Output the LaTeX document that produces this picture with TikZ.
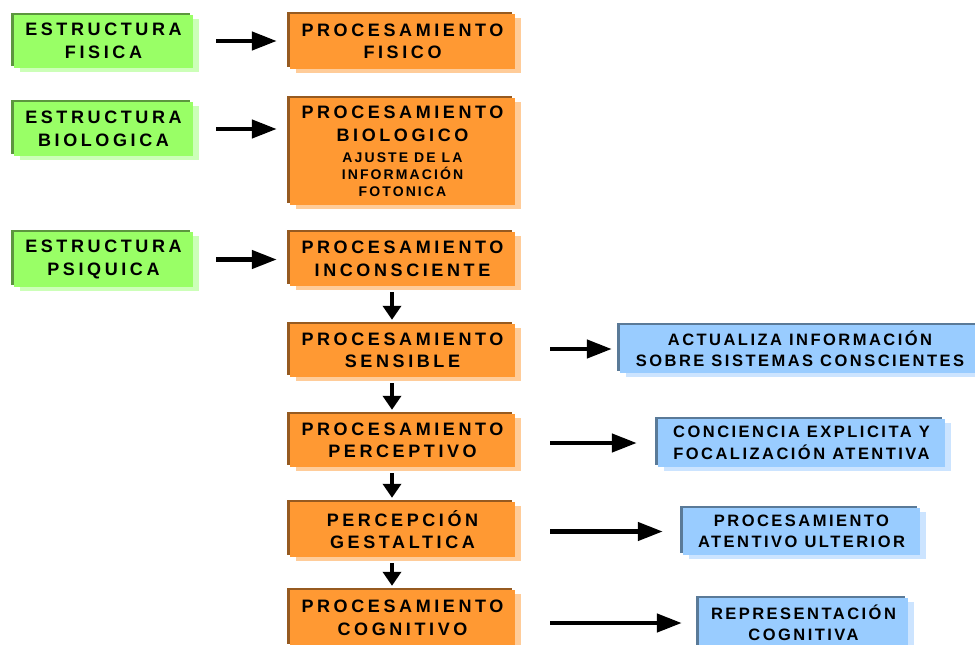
\documentclass[tikz,border=0pt]{standalone}
\usepackage{fontspec}
\setmainfont{Liberation Sans}
\newfontfamily\boxfont[LetterSpace=20]{Liberation Sans}
\newfontfamily\bluefont[LetterSpace=15]{Liberation Sans}
\newfontfamily\smallfont[LetterSpace=15]{Liberation Sans}
\usetikzlibrary{arrows.meta,shadows}

\definecolor{greenfill}{RGB}{153,255,102}
\definecolor{greendark}{RGB}{92,150,62}
\definecolor{greenlight}{RGB}{204,255,184}
\definecolor{orangefill}{RGB}{255,153,51}
\definecolor{orangedark}{RGB}{150,90,32}
\definecolor{orangelight}{RGB}{255,204,153}
\definecolor{bluefill}{RGB}{153,204,255}
\definecolor{bluedark}{RGB}{90,122,152}
\definecolor{bluelight}{RGB}{204,228,255}

\begin{document}
\begin{tikzpicture}[x=1pt,y=-1pt,
		box/.style={inner sep=0pt,align=center,font=\boxfont\bfseries\fontsize{18}{22.5}\selectfont},
		greenbox/.style={box,fill=greenfill,minimum width=179pt,
			general shadow={shadow xshift=6pt,shadow yshift=-4pt,fill=greenlight},
			general shadow={shadow xshift=-3pt,shadow yshift=2pt,fill=greendark}},
		orangebox/.style={box,fill=orangefill,minimum width=225pt,
			general shadow={shadow xshift=6pt,shadow yshift=-4pt,fill=orangelight},
			general shadow={shadow xshift=-3pt,shadow yshift=2pt,fill=orangedark}},
		bluebox/.style={box,fill=bluefill,font=\bluefont\bfseries\fontsize{16.5}{21.5}\selectfont,
			general shadow={shadow xshift=6pt,shadow yshift=-4pt,fill=bluelight},
			general shadow={shadow xshift=-3pt,shadow yshift=2pt,fill=bluedark}},
		flow/.style={line width=4.5pt,-{Triangle[length=25pt,width=18pt]}},
		down/.style={line width=4pt,-{Triangle[length=14pt,width=18pt]}}]
			% page
			\useasboundingbox (0,0) rectangle (975,645);
			\clip (0,0) rectangle (975,645);
			% structures
			\node[greenbox,minimum height=53pt] (g1) at (103.5,41) {ESTRUCTURA\\FISICA};
			\node[greenbox,minimum height=54pt] (g2) at (103.5,129) {ESTRUCTURA\\BIOLOGICA};
			\node[greenbox,minimum height=55pt] (g3) at (103.5,259.5) {ESTRUCTURA\\PSIQUICA};
			% processing column
			\node[orangebox,minimum height=55pt] (o1) at (402.5,41.5) {PROCESAMIENTO\\FISICO};
			\node[orangebox,minimum height=107pt] (o2) at (402.5,151.5) {PROCESAMIENTO\\BIOLOGICO\\[-1.5pt]
				\smallfont\fontsize{14}{17}\selectfont AJUSTE DE LA\\[-5.5pt]
				\smallfont\fontsize{14}{17}\selectfont INFORMACIÓN\\[-5.5pt]
				\smallfont\fontsize{14}{17}\selectfont FOTONICA};
			\node[orangebox,minimum height=54pt] (o3) at (402.5,259) {PROCESAMIENTO\\INCONSCIENTE};
			\node[orangebox,minimum height=53pt] (o4) at (402.5,350.5) {PROCESAMIENTO\\SENSIBLE};
			\node[orangebox,minimum height=53pt] (o5) at (402.5,440.5) {PROCESAMIENTO\\PERCEPTIVO};
			\node[orangebox,minimum height=55pt] (o6) at (402.5,529.5) {PERCEPCIÓN\\GESTALTICA};
			\node[orangebox,minimum height=56pt] (o7) at (402.5,618) {PROCESAMIENTO\\COGNITIVO};
			% results
			\node[bluebox,minimum width=360pt,minimum height=48pt] (b1) at (800,349) {ACTUALIZA INFORMACIÓN\\SOBRE SISTEMAS CONSCIENTES};
			\node[bluebox,minimum width=287pt,minimum height=48pt] (b2) at (801.5,443) {CONCIENCIA EXPLICITA Y\\FOCALIZACIÓN ATENTIVA};
			\node[bluebox,minimum width=237pt,minimum height=47pt] (b3) at (801.5,531.5) {PROCESAMIENTO\\ATENTIVO ULTERIOR};
			\node[bluebox,minimum width=209pt,minimum height=50pt] (b4) at (803.5,623) {REPRESENTACIÓN\\COGNITIVA};
			% structure -> processing
			\draw[flow,shorten <=23pt,shorten >=13pt] (g1.east) -- (g1.east -| o1.west);
			\draw[flow,shorten <=23pt,shorten >=13pt] (g2.east) -- (g2.east -| o2.west);
			\draw[flow,shorten <=23pt,shorten >=13pt] (g3.east) -- (g3.east -| o3.west);
			% down the column
			\foreach \a/\b in {o3/o4,o4/o5,o5/o6,o6/o7}
				\draw[down,shorten <=6pt,shorten >=4pt] ([xshift=-10.5pt]\a.south) -- ([xshift=-10.5pt]\b.north);
			% processing -> results
			\draw[flow,shorten <=35pt,shorten >=8pt] (b1.west -| o4.east) -- (b1.west);
			\draw[flow,shorten <=35pt,shorten >=21pt] (b2.west -| o5.east) -- (b2.west);
			\draw[flow,shorten <=35pt,shorten >=20pt] (b3.west -| o6.east) -- (b3.west);
			\draw[flow,shorten <=35pt,shorten >=17pt] (b4.west -| o7.east) -- (b4.west);
		\end{tikzpicture}
\end{document}
